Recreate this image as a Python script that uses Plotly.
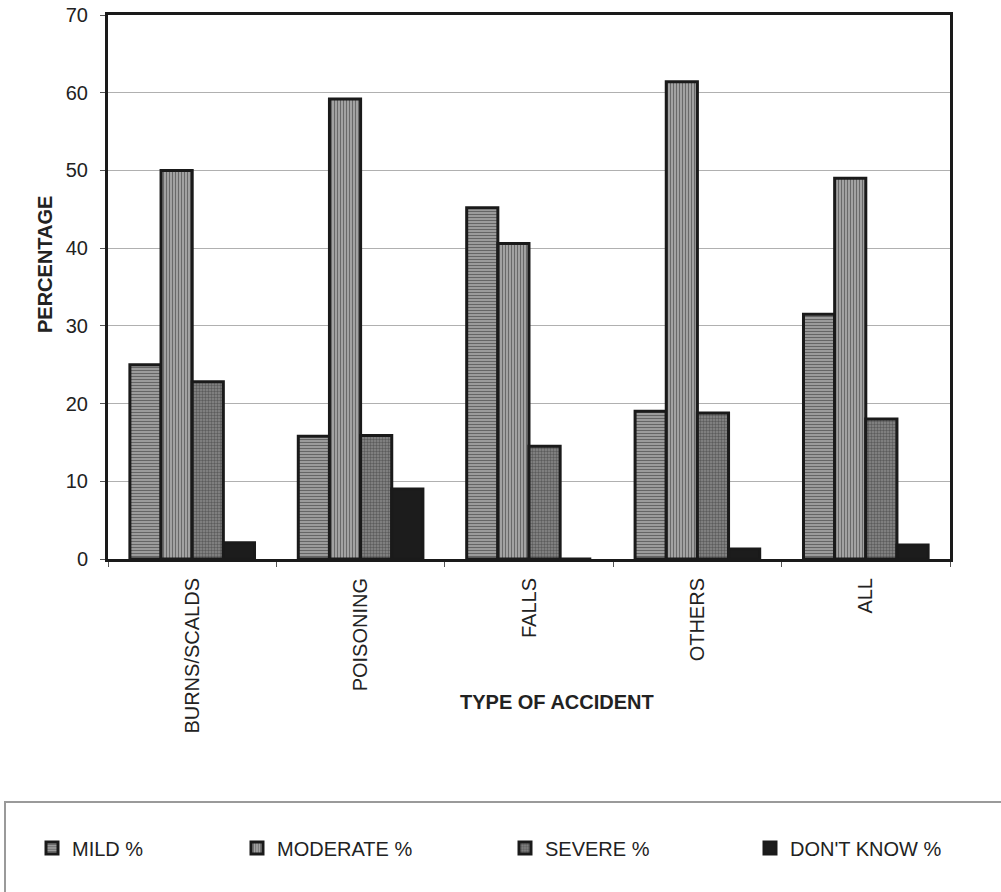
import plotly.graph_objects as go

# Accident type categories and severity percentages
categories = ["BURNS/SCALDS", "POISONING", "FALLS", "OTHERS", "ALL"]
mild = [25.0, 15.8, 45.2, 19.0, 31.5]
moderate = [50.0, 59.2, 40.6, 61.4, 49.0]
severe = [22.8, 15.9, 14.5, 18.8, 18.0]
dont_know = [2.1, 9.0, 0.0, 1.3, 1.8]

series_names = ["MILD %", "MODERATE %", "SEVERE %", "DON'T KNOW %"]
y_ticks = [0, 10, 20, 30, 40, 50, 60, 70]

FONT = "Arial, Liberation Sans, sans-serif"
TXT = "#222222"

W, H = 1001, 892
L, R, T, B = 108, 51, 15, 333
PW, PH = W - L - R, H - T - B


def px_x(px):
    return (px - L) / PW


def px_y(py):
    return (H - B - py) / PH


styles = [
    dict(color="#a0a0a0", pattern=dict(shape="-", fgcolor="#2a2a2a", size=3, solidity=0.4)),
    dict(color="#a8a8a8", pattern=dict(shape="|", fgcolor="#2a2a2a", size=3, solidity=0.4)),
    dict(color="#8a8a8a", pattern=dict(shape=".", fgcolor="#2e2e2e", size=3, solidity=0.5)),
    dict(color="#1c1c1c"),
]

fig = go.Figure()
legend_ids = ["legend", "legend2", "legend3", "legend4"]
for name, vals, st, lg in zip(series_names, [mild, moderate, severe, dont_know], styles, legend_ids):
    fig.add_trace(go.Bar(
        x=categories, y=vals, name=name, legend=lg, showlegend=True,
        marker=dict(line=dict(color="#1a1a1a", width=3), **st),
    ))

# Legend entries spread across the bottom box (placed in container pixels)
legend_text_px = [72, 277, 545, 790]
legend_common = dict(
    xref="container", yref="container",
    yanchor="middle", y=1 - 848 / H, xanchor="left",
    font=dict(family=FONT, size=20, color=TXT),
    bgcolor="rgba(0,0,0,0)", borderwidth=0, itemclick=False,
)
legend_layout = {}
for lg, tx in zip(legend_ids, legend_text_px):
    legend_layout[lg] = dict(x=(tx - 40) / W, **legend_common)

fig.update_layout(
    width=W, height=H, showlegend=True,
    margin=dict(l=L, r=R, t=T, b=B, pad=0, autoexpand=False),
    paper_bgcolor="white", plot_bgcolor="white",
    barmode="group", bargap=0.26, bargroupgap=0.0,
    font=dict(family=FONT, size=20, color=TXT),
    **legend_layout,
)

fig.update_xaxes(
    type="category", tickangle=-90, tickson="boundaries",
    ticks="outside", ticklen=5, tickcolor="#555", tickwidth=1,
    showline=True, linecolor="#1a1a1a", linewidth=3, mirror=True,
    showgrid=False, ticklabelstandoff=8, automargin=False,
    tickfont=dict(family=FONT, size=20, color=TXT),
)
fig.update_yaxes(
    range=[0, 70], tickvals=y_ticks, ticks="outside", ticklen=5,
    tickcolor="#555", tickwidth=1,
    showline=True, linecolor="#1a1a1a", linewidth=3, mirror=True,
    showgrid=True, gridcolor="#b0b0b0", gridwidth=1, zeroline=False,
    ticklabelstandoff=8, automargin=False,
    tickfont=dict(family=FONT, size=20, color=TXT),
)

# Axis titles
fig.add_annotation(
    text="<b>TYPE OF ACCIDENT</b>", xref="paper", yref="paper",
    x=px_x(557), y=px_y(702), xanchor="center", yanchor="middle",
    showarrow=False, font=dict(family=FONT, size=20, color=TXT),
)
fig.add_annotation(
    text="<b>PERCENTAGE</b>", xref="paper", yref="paper", textangle=-90,
    x=px_x(45), y=px_y(265), xanchor="center", yanchor="middle",
    showarrow=False, font=dict(family=FONT, size=20, color=TXT),
)

# Box around the legend row
fig.add_shape(
    type="rect", xref="paper", yref="paper",
    x0=px_x(5), x1=px_x(1010), y0=px_y(905), y1=px_y(802),
    line=dict(color="#9a9a9a", width=2), fillcolor="rgba(0,0,0,0)", layer="below",
)

fig.write_html("out.html")
